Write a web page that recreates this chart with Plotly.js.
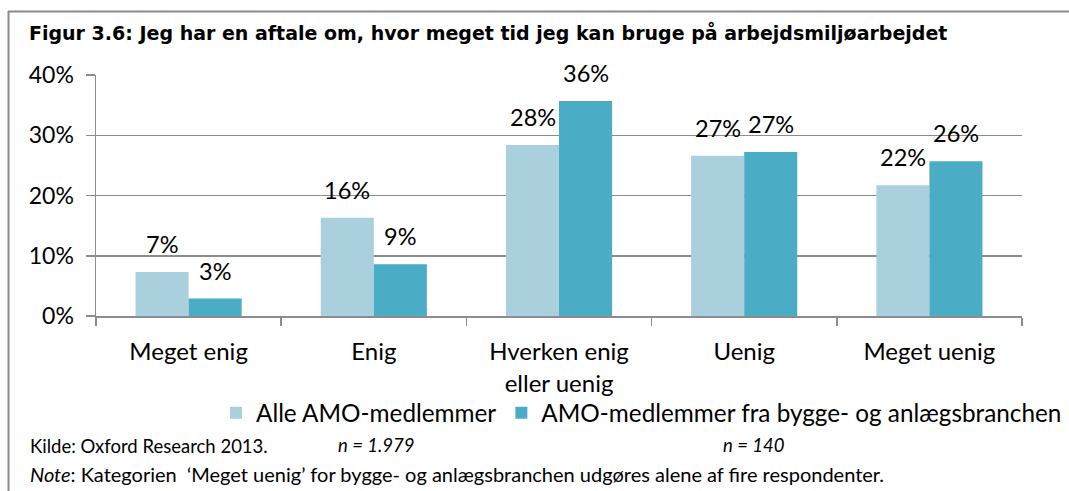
<!DOCTYPE html>
<html>
<head>
<meta charset="utf-8">
<script src="https://cdn.plot.ly/plotly-3.0.1.min.js"></script>
<style>html,body{margin:0;padding:0;background:#fff;}#chart{width:1069px;height:491px;}</style>
</head>
<body>
<div id="chart"></div>
<script>
const categories = ["Meget enig", "Enig", "Hverken enig<br>eller uenig", "Uenig", "Meget uenig"];
const seriesNames = ["Alle AMO-medlemmer", "AMO-medlemmer fra bygge- og anlægsbranchen"];
const alleValues = [0.073, 0.163, 0.284, 0.266, 0.217];
const byggeValues = [0.029, 0.086, 0.357, 0.272, 0.257];
const yTickVals = [0, 0.1, 0.2, 0.3, 0.4];
const yTickText = ["0%", "10%", "20%", "30%", "40%"];
const titleText = "Figur 3.6: Jeg har en aftale om, hvor meget tid jeg kan bruge på arbejdsmiljøarbejdet";
const sourceText = "Kilde: Oxford Research 2013.";
const nAlle = "n = 1.979";
const nBygge = "n = 140";
const noteText = "<i>Note</i>: Kategorien  ‘Meget uenig’ for bygge- og anlægsbranchen udgøres alene af fire respondenter.";

const W = 1069, H = 491;
const L = 96, R = 47, T = 75, B = 175;
const pw = W - L - R, ph = H - T - B;
const px = x => (x - L) / pw;
const py = y => (H - B - y) / ph;

const lightColor = "#AACFDD";
const darkColor = "#4BACC6";
const gray = "#8c8c8c";
const font = "Lato, 'Open Sans', sans-serif";

const traces = [
  {type: "bar", name: seriesNames[0], x: categories, y: alleValues, marker: {color: lightColor}, hoverinfo: "none"},
  {type: "bar", name: seriesNames[1], x: categories, y: byggeValues, marker: {color: darkColor}, hoverinfo: "none"}
];

const barHalf = 26.5;
const annotations = [];
[alleValues, byggeValues].forEach((vals, s) => {
  vals.forEach((v, i) => {
    annotations.push({
      x: categories[i], y: v, xref: "x", yref: "y",
      text: Math.round(v * 100) + "%", showarrow: false,
      xanchor: "center", yanchor: "bottom",
      xshift: s === 0 ? -barHalf : barHalf, yshift: 12,
      font: {family: font, size: 23.5, color: "#000"}
    });
  });
});
annotations.push({xref: "paper", yref: "paper", x: px(27), y: py(33), xanchor: "left", yanchor: "middle",
  text: "<b>" + titleText + "</b>", showarrow: false,
  font: {family: "'DejaVu Sans', Verdana, sans-serif", size: 19, color: "#000"}});
annotations.push({xref: "paper", yref: "paper", x: px(28), y: py(446), xanchor: "left", yanchor: "middle",
  text: sourceText, showarrow: false, font: {family: font, size: 18.5, color: "#000"}});
annotations.push({xref: "paper", yref: "paper", x: px(336), y: py(445), xanchor: "left", yanchor: "middle",
  text: "<i>" + nAlle + "</i>", showarrow: false, font: {family: font, size: 18.5, color: "#000"}});
annotations.push({xref: "paper", yref: "paper", x: px(721), y: py(445), xanchor: "left", yanchor: "middle",
  text: "<i>" + nBygge + "</i>", showarrow: false, font: {family: font, size: 18.5, color: "#000"}});
annotations.push({xref: "paper", yref: "paper", x: px(28), y: py(474), xanchor: "left", yanchor: "middle",
  text: noteText, showarrow: false, font: {family: font, size: 20, color: "#000"}});

const shapes = [
  {type: "line", xref: "paper", yref: "paper", x0: px(8), x1: px(1075), y0: py(11.5), y1: py(11.5), line: {color: gray, width: 2}},
  {type: "line", xref: "paper", yref: "paper", x0: px(8.5), x1: px(8.5), y0: py(11), y1: py(495), line: {color: gray, width: 2}}
];

const layout = {
  width: W, height: H,
  margin: {l: L, r: R, t: T, b: B, pad: 0, autoexpand: false},
  paper_bgcolor: "#fff", plot_bgcolor: "#fff",
  font: {family: font, size: 20, color: "#000"},
  barmode: "group", bargap: 0.427, bargroupgap: 0,
  showlegend: true,
  legend: {orientation: "h", x: px(1067), xanchor: "right", y: py(413), yanchor: "middle",
    font: {family: font, size: 24.3, color: "#000"}, itemwidth: 30, traceorder: "normal", bgcolor: "rgba(0,0,0,0)"},
  xaxis: {type: "category", showline: true, linecolor: gray, linewidth: 1.5,
    ticks: "outside", tickson: "boundaries", ticklen: 8, tickcolor: gray, tickwidth: 1.5, ticklabelstandoff: 14,
    tickfont: {family: font, size: 24, color: "#000"}, showgrid: false, zeroline: false, fixedrange: true},
  yaxis: {range: [0, 0.4], tickvals: yTickVals, ticktext: yTickText, showline: true, linecolor: gray, linewidth: 1.5,
    ticks: "outside", ticklen: 9, tickcolor: gray, tickwidth: 1.5, showgrid: true, gridcolor: gray, gridwidth: 1.5,
    ticklabelstandoff: 7,
    zeroline: false, tickfont: {family: font, size: 23, color: "#000"}, fixedrange: true},
  annotations: annotations,
  shapes: shapes
};

Plotly.newPlot("chart", traces, layout, {staticPlot: true, displayModeBar: false});
</script>
</body>
</html>
